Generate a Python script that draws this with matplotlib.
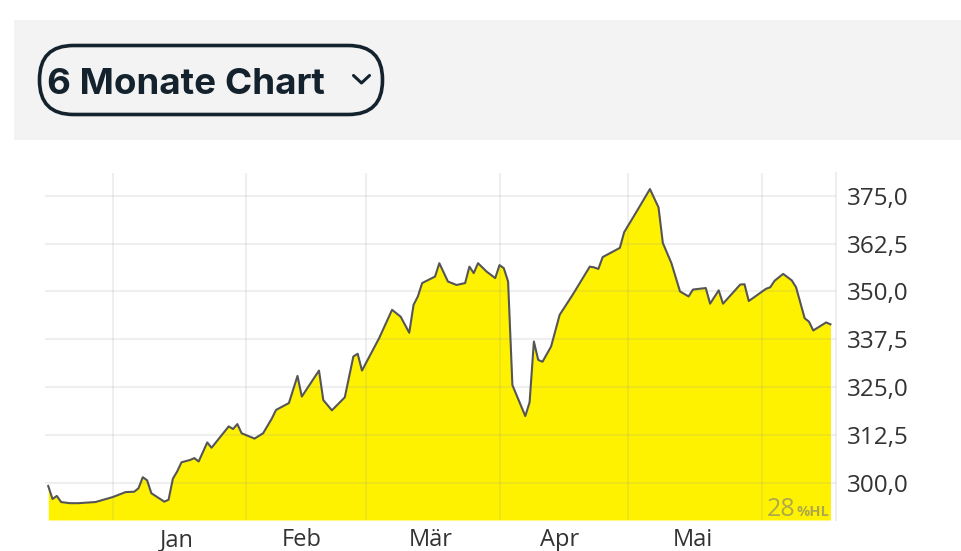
import matplotlib
matplotlib.use("Agg")
import matplotlib.pyplot as plt
import pandas as pd
from matplotlib.patches import Rectangle, FancyBboxPatch

# Kursverlauf (6 Monate)
dates = [
    "2024-12-17", "2024-12-18", "2024-12-19", "2024-12-20", "2024-12-22", "2024-12-24",
    "2024-12-28", "2025-01-01", "2025-01-04", "2025-01-06", "2025-01-07", "2025-01-08",
    "2025-01-09", "2025-01-10", "2025-01-13", "2025-01-14", "2025-01-15", "2025-01-16",
    "2025-01-17", "2025-01-19", "2025-01-20", "2025-01-21", "2025-01-23", "2025-01-24",
    "2025-01-28", "2025-01-29", "2025-01-30", "2025-01-31", "2025-02-03", "2025-02-05",
    "2025-02-07", "2025-02-08", "2025-02-11", "2025-02-13", "2025-02-14", "2025-02-18",
    "2025-02-19", "2025-02-21", "2025-02-24", "2025-02-26", "2025-02-27", "2025-02-28",
    "2025-03-04", "2025-03-07", "2025-03-09", "2025-03-11", "2025-03-12", "2025-03-13",
    "2025-03-14", "2025-03-17", "2025-03-18", "2025-03-20", "2025-03-22", "2025-03-24",
    "2025-03-25", "2025-03-26", "2025-03-27", "2025-03-29", "2025-03-31", "2025-04-01",
    "2025-04-02", "2025-04-03", "2025-04-04", "2025-04-07", "2025-04-08", "2025-04-09",
    "2025-04-10", "2025-04-11", "2025-04-13", "2025-04-15", "2025-04-18", "2025-04-22",
    "2025-04-23", "2025-04-24", "2025-04-25", "2025-04-29", "2025-04-30", "2025-05-03",
    "2025-05-06", "2025-05-08", "2025-05-09", "2025-05-11", "2025-05-13", "2025-05-15",
    "2025-05-16", "2025-05-19", "2025-05-20", "2025-05-22", "2025-05-23", "2025-05-27",
    "2025-05-28", "2025-05-29", "2025-05-31", "2025-06-02", "2025-06-03", "2025-06-04",
    "2025-06-06", "2025-06-08", "2025-06-09", "2025-06-11", "2025-06-12", "2025-06-13",
    "2025-06-16", "2025-06-17",
]
prices = [
    299.1, 295.7, 296.5, 294.9, 294.6, 294.6,
    294.9, 296.2, 297.5, 297.6, 298.5, 301.4,
    300.6, 297.2, 295.0, 295.5, 301.0, 302.9,
    305.3, 305.9, 306.4, 305.5, 310.5, 309.1,
    314.7, 314.0, 315.3, 312.9, 311.5, 312.9,
    316.7, 319.0, 320.8, 327.9, 322.5, 329.3,
    321.6, 318.9, 322.3, 333.0, 333.7, 329.3,
    337.8, 345.2, 343.4, 339.2, 346.5, 348.7,
    352.2, 353.9, 357.4, 352.6, 351.7, 352.2,
    356.5, 354.8, 357.4, 355.2, 353.5, 356.9,
    356.1, 352.6, 325.5, 317.4, 321.0, 336.9,
    332.1, 331.6, 335.6, 343.9, 349.1, 356.5,
    356.3, 355.9, 359.0, 361.4, 365.5, 371.1,
    376.8, 372.0, 362.7, 357.4, 350.0, 348.7,
    350.5, 350.9, 346.8, 350.3, 346.8, 351.8,
    351.9, 347.5, 349.1, 350.7, 351.1, 352.8,
    354.6, 352.9, 351.1, 343.0, 342.1, 339.8,
    341.9, 341.4,
]

month_starts = ["2025-01-01", "2025-02-01", "2025-03-01", "2025-04-01", "2025-05-01", "2025-06-01"]
month_mids = ["2025-01-16", "2025-02-14", "2025-03-16", "2025-04-15", "2025-05-16"]
month_labels = ["Jan", "Feb", "Mär", "Apr", "Mai"]
y_ticks = [300.0, 312.5, 325.0, 337.5, 350.0, 362.5, 375.0]

x = pd.to_datetime(dates)
y_min, y_max = 290.2, 381.0

fig = plt.figure(figsize=(9.62, 5.51), dpi=100)
fig.patch.set_facecolor("white")

# Kopfbereich in Pixelkoordinaten
bg = fig.add_axes([0, 0, 1, 1], zorder=0)
bg.set_xlim(0, 962)
bg.set_ylim(551, 0)
bg.axis("off")
bg.add_patch(Rectangle((14, 20), 948, 120, facecolor="#f3f3f3", edgecolor="none"))
bg.add_patch(FancyBboxPatch((39.5, 45.5), 343, 69,
                            boxstyle="round,pad=0,rounding_size=34",
                            facecolor="#f3f3f3", edgecolor="#13222c", linewidth=2.6))
bg.text(47, 94, "6 Monate Chart", ha="left", va="baseline", fontsize=26.5,
        fontweight="bold", family="Inter", color="#13222c")
bg.plot([353.5, 361.5, 369.5], [75.5, 83, 75.5], color="#13222c", lw=2.2,
        solid_capstyle="round")

# Chart
ax = fig.add_axes([45 / 962, 1 - 520 / 551, (836 - 45) / 962, (520 - 173) / 551], zorder=1)
ax.fill_between(x, prices, y_min, color="#fff200", lw=0, zorder=1)
ax.plot(x, prices, color="#555555", lw=1.5, zorder=3)

ax.set_xlim(pd.Timestamp("2024-12-16 06:00"), pd.Timestamp("2025-06-18 07:00"))
ax.set_ylim(y_min, y_max)

ax.set_xticks(pd.to_datetime(month_starts))
ax.set_xticklabels([])
ax.set_xticks(pd.to_datetime(month_mids), minor=True)
ax.set_xticklabels(month_labels, minor=True, family="Open Sans", fontsize=17, color="#333333")

ax.yaxis.tick_right()
ax.set_yticks(y_ticks)
ax.set_yticklabels([f"{v:.1f}".replace(".", ",") for v in y_ticks],
                   family="Open Sans", fontsize=17.5, color="#333333")

ax.tick_params(axis="both", which="both", length=0)
ax.tick_params(axis="x", which="minor", pad=6)
ax.tick_params(axis="y", pad=8)

ax.set_axisbelow(False)
ax.grid(True, which="major", color="#999999", alpha=0.15, lw=1.5)

for side in ["top", "left", "bottom"]:
    ax.spines[side].set_visible(False)
ax.spines["right"].set_color("#eeeeee")
ax.spines["right"].set_linewidth(1.5)

# Wasserzeichen
ax.text(795, 516, "28", transform=bg.transData, ha="right", va="baseline",
        family="Open Sans", fontsize=18, color="#8a8a6a",
        alpha=0.7, zorder=4, clip_on=False)
ax.text(797, 516, "%HL", transform=bg.transData, ha="left", va="baseline",
        family="Open Sans", fontweight="bold", fontsize=10.5, color="#8a8a6a",
        alpha=0.7, zorder=4, clip_on=False)

fig.savefig("out.png", dpi=100, facecolor="white")
